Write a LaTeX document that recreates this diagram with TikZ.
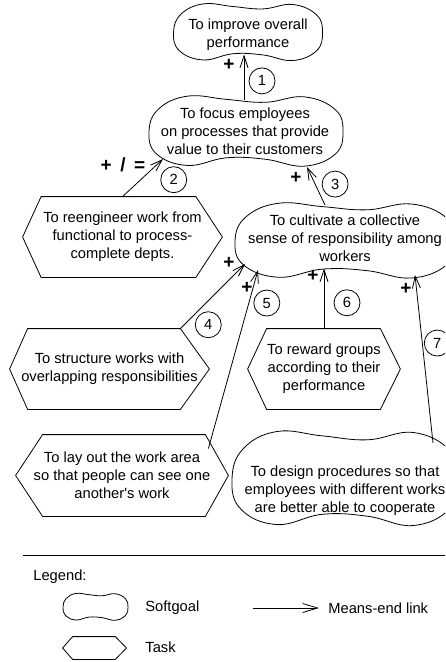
\documentclass[tikz,border=0pt]{standalone}
\usepackage{fontspec}
\setmainfont{Liberation Sans}
\usetikzlibrary{arrows.meta,calc}

\tikzset{
  goaltext/.style={align=center, inner sep=0pt},
  tasknode/.style={align=center, inner sep=0pt},
  meansend/.style={-{Straight Barb[length=12pt,width=8pt]}},
  contrib/.style={font=\fontsize{19}{19}\selectfont\bfseries, inner sep=0pt},
  linknum/.style={circle, draw, inner sep=0pt, minimum size=26pt},
  legendtext/.style={anchor=west, inner sep=0pt},
}

% outline of a softgoal: centre, half width, half height
\newcommand{\softgoal}[3]{%
  \draw[shift={#1}, xscale=#2, yscale=#3] plot[smooth cycle, tension=0.7] coordinates {
    (-1,0) (-0.9,-0.62) (-0.6,-0.97) (-0.2,-0.88) (0.2,-0.8) (0.6,-0.95) (0.92,-0.6)
    (1,0) (0.92,0.62) (0.6,0.95) (0.2,0.76) (-0.2,0.72) (-0.6,0.93) (-0.92,0.62)};}

% outline of a task: node, left and right inset
\newcommand{\taskshape}[3]{%
  \draw ($(#1.north west)+(#2,0)$) -- ($(#1.north east)-(#3,0)$) -- (#1.east)
    -- ($(#1.south east)-(#3,0)$) -- ($(#1.south west)+(#2,0)$) -- (#1.west) -- cycle;}

\begin{document}
\begin{tikzpicture}[x=1pt, y=-1pt, line width=0.8pt,
    every node/.style={font=\fontsize{14.7}{18}\selectfont}]
    \useasboundingbox (0,0) rectangle (445,662);
    \clip (0,0) rectangle (445,662);

    % Softgoals
    \node[goaltext] (g1) at (248,35) {To improve overall\\performance};
    \node[goaltext] (g2) at (245,131) {To focus employees\\on processes that provide\\value to their customers};
    \node[goaltext] (g3) at (345,238.5) {To cultivate a collective\\sense of responsibility among\\workers};
    \node[goaltext] (g4) at (345,491) {To design procedures so that\\employees with different works\\are better able to cooperate};
    \softgoal{($(g1)+(0,-2.5)$)}{74.5}{29.5}
    \softgoal{($(g2)+(1,0.5)$)}{97}{36.5}
    \softgoal{($(g3)+(0,2.5)$)}{110}{39}
    \softgoal{($(g4)+(0,-12)$)}{113}{49}

    % Tasks
    \node[tasknode, minimum width=199pt, minimum height=80pt] (t1) at (122.5,237) {To reengineer work from\\functional to process-\\complete depts.};
    \node[tasknode, minimum width=199pt, minimum height=80pt] (t2) at (109.5,369) {To structure works with\\overlapping responsibilities};
    \node[tasknode, minimum width=212pt, minimum height=81pt] (t3) at (122,475.5) {To lay out the work area\\so that people can see one\\another\textquotesingle s work};
    \node[tasknode, minimum width=152pt, minimum height=80pt] (t4) at (324,369) {To reward groups\\according to their\\performance};
    \taskshape{t1}{18.5}{26.5}
    \taskshape{t2}{18}{29}
    \taskshape{t3}{27}{23}
    \taskshape{t4}{19}{20}

    % Means-end links
    \draw[meansend] ($(g2)+(-1,-31)$) -- ($(g1)+(-4,19.5)$)
        node[contrib, pos=0.77, xshift=-15pt] (p1) {+}
        node[linknum, pos=0.42, xshift=18pt] (n1) {1};
    \draw[meansend] (t1.north) -- ($(g2)+(-82,28)$)
        node[contrib, pos=0.85, xshift=-34pt] (p2) {+\hspace{0.45em}/\hspace{0.45em}=}
        node[linknum, pos=0.45, xshift=33pt] (n2) {2};
    \draw[meansend] ($(g3)+(-20,-33.5)$) -- ($(g2)+(62,36)$)
        node[contrib, pos=0.75, xshift=-15.5pt, yshift=-1.5pt] (p3) {+}
        node[linknum, pos=0.55, xshift=20pt] (n3) {3};
    \draw[meansend] ($(t2.north east)-(29,0)$) -- ($(g3)+(-100,25.5)$)
        node[contrib, pos=0.9, xshift=-9.5pt, yshift=7.5pt] (p4) {+}
        node[linknum, pos=0.06, xshift=24pt] (n4) {4};
    \draw[meansend] ($(t3.east)+(-20,-27)$) -- ($(g3)+(-87,31.5)$)
        node[contrib, pos=0.9, xshift=-6pt] (p5) {+}
        node[linknum, pos=0.815, xshift=18pt] (n5) {5};
    \draw[meansend] (t4.north) -- ($(g3)+(-21,30)$)
        node[contrib, pos=0.88, xshift=-11pt] (p6) {+}
        node[linknum, pos=0.43, xshift=23pt] (n6) {6};
    \draw[meansend] ($(g4)+(88,-48)$) -- ($(g3)+(70,36.5)$)
        node[contrib, pos=0.92, xshift=-10.4pt] (p7) {+}
        node[linknum, pos=0.595, xshift=15pt] (n7) {7};

    % Legend
    \draw (23,555) -- (450,555);
    \node[legendtext] (lgtitle) at (33,577) {Legend:};
    \softgoal{(95.5,607)}{32.5}{14}
    \node[legendtext] (lgsoft) at (145,608) {Softgoal};
    \node[tasknode, minimum width=63pt, minimum height=22pt] (lgtaskbox) at (94.5,648) {};
    \taskshape{lgtaskbox}{10}{11}
    \node[legendtext] (lgtask) at (145,647) {Task};
    \node[legendtext] (lgmeans) at (328,608) {Means-end link};
    \coordinate (lgarrow) at (253,608);
    \draw[-{Straight Barb[length=15pt,width=9pt]}] (lgarrow) -- ($(lgmeans.west)+(-9,0)$);
\end{tikzpicture}
\end{document}
